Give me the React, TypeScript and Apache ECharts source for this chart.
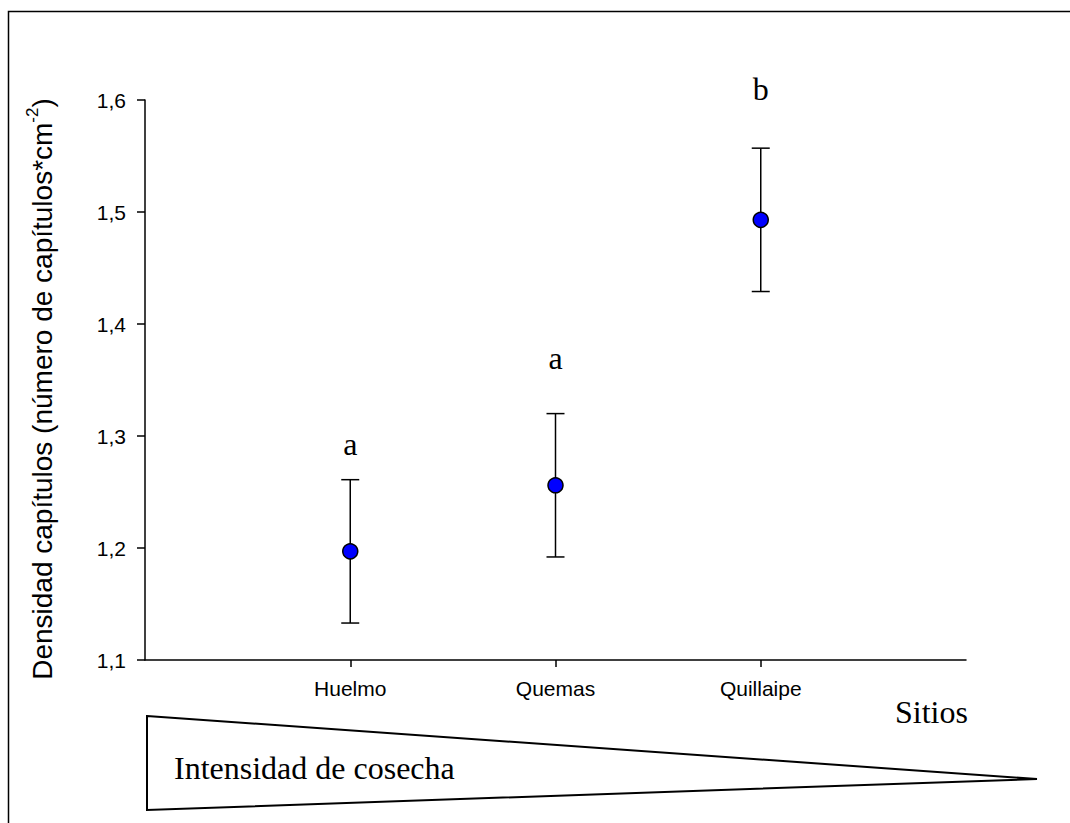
import React, { useEffect, useRef } from "react";
import * as echarts from "echarts";

const categories = ["Huelmo", "Quemas", "Quillaipe"];
const means = [1.197, 1.256, 1.493];
const errors = [0.064, 0.064, 0.064];
const letters = ["a", "a", "b"];
const letterY = [1.293, 1.37, 1.61];
const yMin = 1.1;
const yMax = 1.6;
const yStep = 0.1;

const SANS = "'Liberation Sans', Arial, sans-serif";
const SERIF = "'Liberation Serif', 'Times New Roman', serif";

export default function App() {
  const ref = useRef<HTMLDivElement>(null);
  useEffect(() => {
    if (!ref.current) return;
    const chart = echarts.init(ref.current, null, { renderer: "svg" });
    const xData = ["", ...categories, ""];
    const errData = categories.map((_, i) => [i + 1, means[i] - errors[i], means[i] + errors[i]]);
    const meanData = categories.map((_, i) => [i + 1, means[i]]);
    const letterData = categories.map((_, i) => [i + 1, letterY[i], letters[i]]);
    chart.setOption({
      animation: false,
      backgroundColor: "#ffffff",
      grid: { left: 145, right: 104, top: 100, bottom: 163, containLabel: false },
      xAxis: {
        type: "category",
        data: xData,
        boundaryGap: false,
        axisLine: { lineStyle: { color: "#000", width: 1.5 } },
        axisTick: {
          length: 7,
          lineStyle: { color: "#000", width: 1.5 },
          interval: (_i: number, v: string) => v !== "",
        },
        axisLabel: {
          interval: 0,
          color: "#000",
          fontFamily: SANS,
          fontSize: 21,
          margin: 18,
        },
        splitLine: { show: false },
      },
      yAxis: {
        type: "value",
        min: yMin,
        max: yMax,
        interval: yStep,
        axisLine: { show: true, lineStyle: { color: "#000", width: 1.5 } },
        axisTick: { show: true, length: 8, lineStyle: { color: "#000", width: 1.5 } },
        axisLabel: {
          color: "#000",
          fontFamily: SANS,
          fontSize: 21,
          margin: 19,
          formatter: (v: number) => v.toFixed(1).replace(".", ","),
        },
        splitLine: { show: false },
      },
      series: [
        {
          type: "custom",
          data: errData,
          z: 2,
          renderItem: (params: any, api: any) => {
            const x = api.value(0);
            const lo = api.coord([x, api.value(1)]);
            const hi = api.coord([x, api.value(2)]);
            const w = 9;
            const st = { stroke: "#000", lineWidth: 1.5 };
            return {
              type: "group",
              children: [
                { type: "line", shape: { x1: lo[0], y1: lo[1], x2: hi[0], y2: hi[1] }, style: st },
                { type: "line", shape: { x1: lo[0] - w, y1: lo[1], x2: lo[0] + w, y2: lo[1] }, style: st },
                { type: "line", shape: { x1: hi[0] - w, y1: hi[1], x2: hi[0] + w, y2: hi[1] }, style: st },
              ],
            };
          },
        },
        {
          type: "scatter",
          data: meanData,
          z: 3,
          symbol: "circle",
          symbolSize: 15,
          itemStyle: { color: "#0000ff", borderColor: "#000", borderWidth: 1.5, opacity: 1 },
        },
        {
          type: "custom",
          data: letterData,
          z: 4,
          renderItem: (params: any, api: any) => {
            const p = api.coord([api.value(0), api.value(1)]);
            return {
              type: "text",
              x: p[0],
              y: p[1],
              style: {
                text: letters[params.dataIndex],
                fill: "#000",
                font: `32px ${SERIF}`,
                align: "center",
                verticalAlign: "middle",
              },
            };
          },
        },
      ],
      graphic: [
        {
          type: "rect",
          shape: { x: 8.5, y: 11.5, width: 1200, height: 1000 },
          style: { fill: "none", stroke: "#000", lineWidth: 1.5 },
          silent: true,
          z: -1,
        },
        {
          type: "polygon",
          shape: { points: [[147, 716], [1037, 779], [147, 810]] },
          style: { fill: "#fff", stroke: "#000", lineWidth: 2 },
        },
        {
          type: "text",
          x: 174,
          y: 768,
          style: {
            text: "Intensidad de cosecha",
            fill: "#000",
            font: `32px ${SERIF}`,
            align: "left",
            verticalAlign: "middle",
          },
        },
        {
          type: "text",
          x: 895,
          y: 712,
          style: {
            text: "Sitios",
            fill: "#000",
            font: `32px ${SERIF}`,
            align: "left",
            verticalAlign: "middle",
          },
        },
        {
          type: "text",
          x: 40,
          y: 389,
          rotation: Math.PI / 2,
          style: {
            text: "{n|Densidad capítulos (número de capítulos*cm}{s|-2}{n|)}",
            fill: "#000",
            align: "center",
            verticalAlign: "middle",
            rich: {
              n: { fontFamily: SANS, fontSize: 28, color: "#000", verticalAlign: "bottom", lineHeight: 33 },
              s: { fontFamily: SANS, fontSize: 17, color: "#000", verticalAlign: "top", lineHeight: 33 },
            },
          },
        },
      ],
    });
    return () => chart.dispose();
  }, []);
  return (
    <div
      ref={ref}
      style={{ position: "absolute", left: 0, top: 0, width: 1070, height: 823 }}
    />
  );
}
